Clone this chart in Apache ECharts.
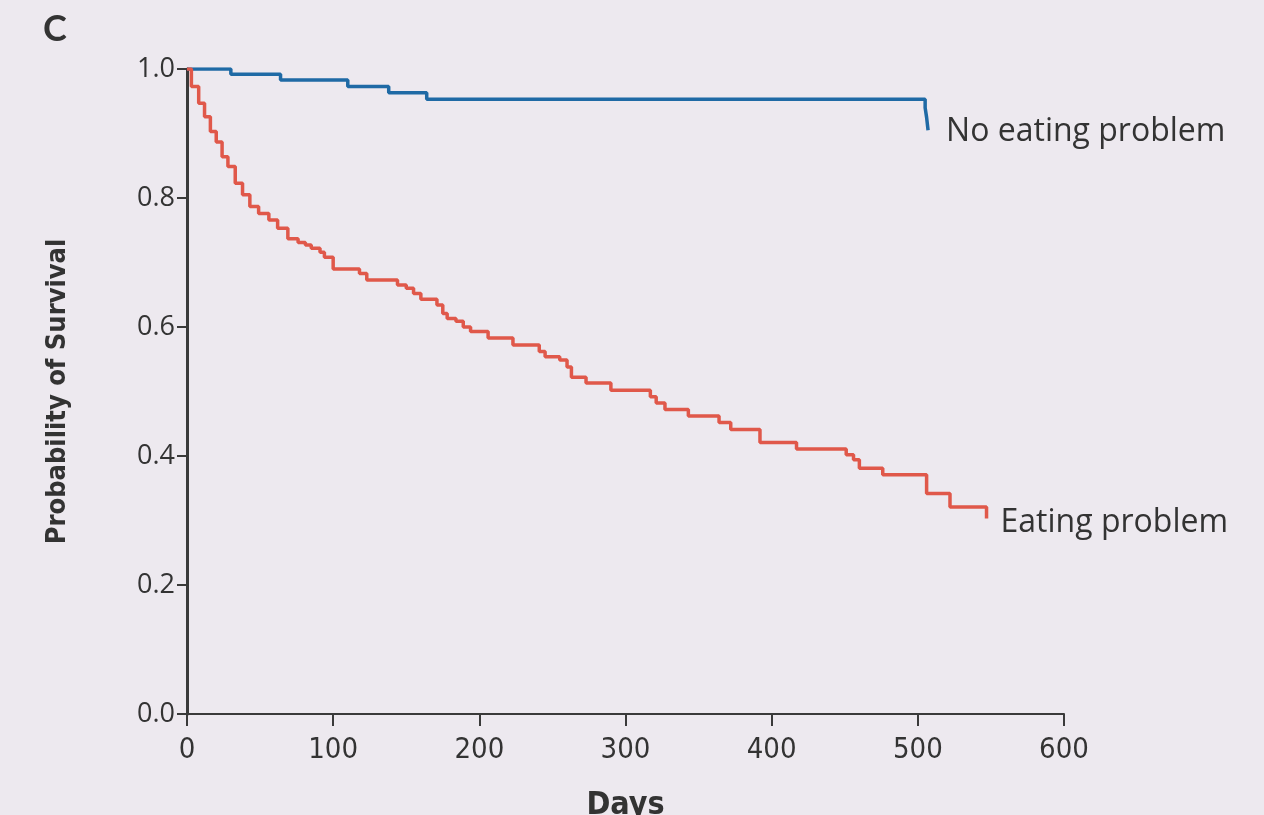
<!DOCTYPE html>
<html>
<head>
<meta charset="utf-8">
<script src="https://cdn.jsdelivr.net/npm/echarts@6/dist/echarts.min.js"></script>
<style>
html,body{margin:0;padding:0;background:#ede9ef;}
#chart{width:1264px;height:815px;}
</style>
</head>
<body>
<div id="chart"></div>
<script>
// Kaplan–Meier step points: [day, survival probability]
const seriesNames = ["No eating problem", "Eating problem"];
const noEatingProblem = [
  [0, 1.0], [30, 0.992], [64, 0.983], [110, 0.973], [138, 0.963], [164, 0.953],
  [505, 0.94], [506, 0.925], [507, 0.905]
];
const eatingProblem = [
  [0, 1.0], [3, 0.973], [8, 0.947], [12, 0.926], [16, 0.903], [20, 0.887],
  [24, 0.864], [28, 0.849], [33, 0.823], [38, 0.805], [43, 0.787], [49, 0.776],
  [56, 0.766], [62, 0.753], [69, 0.737], [76, 0.731], [81, 0.727], [85, 0.722],
  [91, 0.716], [94, 0.708], [100, 0.690], [118, 0.683], [123, 0.673], [144, 0.665],
  [150, 0.660], [155, 0.652], [160, 0.643], [171, 0.634], [175, 0.621], [178, 0.613],
  [184, 0.609], [189, 0.600], [194, 0.593], [206, 0.583], [223, 0.572], [241, 0.562],
  [245, 0.554], [255, 0.549], [260, 0.538], [263, 0.522], [273, 0.513], [290, 0.502],
  [317, 0.492], [321, 0.482], [327, 0.472], [343, 0.462], [364, 0.452], [372, 0.441],
  [392, 0.421], [417, 0.411], [451, 0.402], [456, 0.394], [460, 0.381], [476, 0.371],
  [506, 0.342], [522, 0.321], [547, 0.303]
];
const xTicks = [0, 100, 200, 300, 400, 500, 600];
const yTicks = [0.0, 0.2, 0.4, 0.6, 0.8, 1.0];
const panelLetter = "C";
const xTitle = "Days";
const yTitle = "Probability of Survival";

const chart = echarts.init(document.getElementById('chart'), null, {renderer: 'canvas'});
const axisColor = '#3a3a3a';
const condensed = 'Liberation Sans Narrow, DejaVu Sans Condensed, sans-serif';
const option = {
  backgroundColor: '#ede9ef',
  animation: false,
  title: {
    text: panelLetter, left: 38, top: 6,
    textStyle: {fontFamily: 'Lato', fontWeight: 'bold', fontSize: 36, color: '#333'}
  },
  grid: {left: 187, right: 200, top: 69, bottom: 101, containLabel: false, outerBoundsMode: 'none'},
  xAxis: {
    type: 'value', min: xTicks[0], max: xTicks[xTicks.length - 1], interval: 100,
    name: xTitle, nameLocation: 'middle', nameGap: 76,
    nameTextStyle: {fontFamily: condensed, fontWeight: 'bold', fontSize: 32, color: '#333'},
    axisLine: {show: true, lineStyle: {color: axisColor, width: 2}},
    axisTick: {show: true, length: 12, inside: false, lineStyle: {color: axisColor, width: 2}},
    axisLabel: {margin: 22, fontFamily: condensed, fontSize: 29, color: '#333'},
    splitLine: {show: false}
  },
  yAxis: {
    type: 'value', min: yTicks[0], max: yTicks[yTicks.length - 1], interval: 0.2,
    name: yTitle, nameLocation: 'middle', nameGap: 116, nameRotate: 90,
    nameTextStyle: {fontFamily: condensed, fontWeight: 'bold', fontSize: 27, color: '#333'},
    axisLine: {show: true, onZero: false, lineStyle: {color: axisColor, width: 3}},
    axisTick: {show: true, length: 10, lineStyle: {color: axisColor, width: 2}},
    axisLabel: {margin: 12, fontFamily: 'Open Sans', fontSize: 27, color: '#333',
      formatter: v => v.toFixed(1)},
    splitLine: {show: false}
  },
  series: [
    {
      name: seriesNames[0], type: 'line', step: 'end', data: noEatingProblem,
      symbol: 'none', lineStyle: {color: '#1f6aa5', width: 3.5},
      itemStyle: {color: '#1f6aa5'},
      endLabel: {show: true, formatter: '{a}', distance: 18, offset: [0, 2],
        fontFamily: 'Open Sans', fontSize: 32, color: '#333'}
    },
    {
      name: seriesNames[1], type: 'line', step: 'end', data: eatingProblem,
      symbol: 'none', lineStyle: {color: '#e0584a', width: 3.5},
      itemStyle: {color: '#e0584a'},
      endLabel: {show: true, formatter: '{a}', distance: 14, offset: [0, 4],
        fontFamily: 'Open Sans', fontSize: 32, color: '#333'}
    }
  ]
};
chart.setOption(option);
</script>
</body>
</html>
